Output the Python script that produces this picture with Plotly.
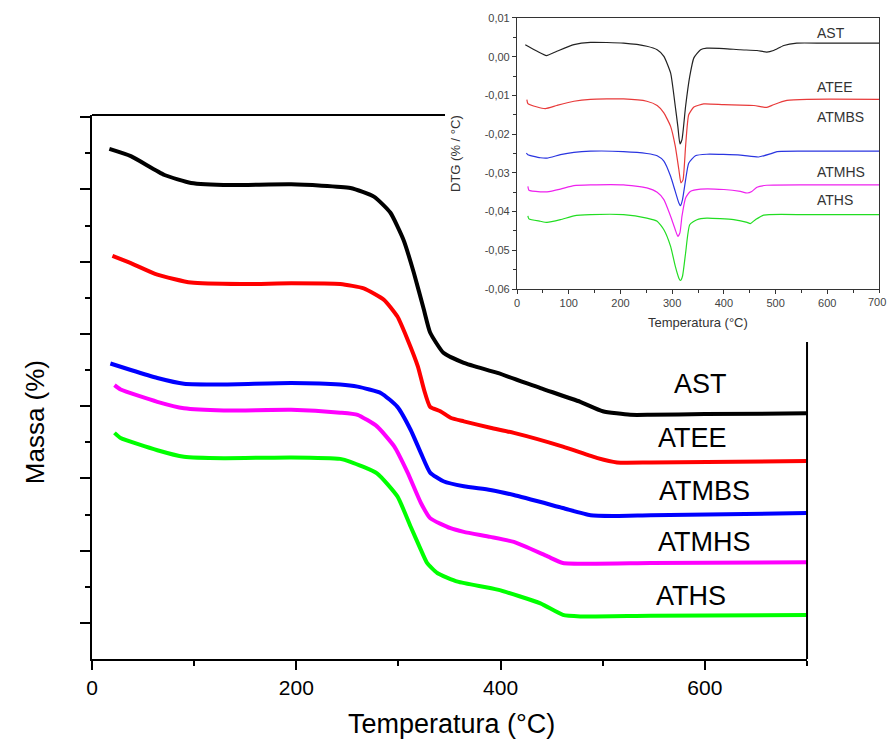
import plotly.graph_objects as go

# ---------------- Main TG curves (Massa, arbitrary offset units) ----------------
series_names = ["AST", "ATEE", "ATMBS", "ATMHS", "ATHS"]
main_colors = ["#000000", "#ff0000", "#0000ff", "#ff00ff", "#00ff00"]
dtg_colors = ["#222222", "#e83a3a", "#2a35e0", "#ee22ee", "#22dd22"]

ast_T = [17, 38, 71, 97, 136, 195, 253, 276, 292, 305, 315, 325, 331, 344, 364, 397, 439, 478, 500, 527, 547, 600, 700]
ast_M = [70.6, 69.6, 67.0, 65.9, 65.6, 65.7, 65.2, 64.0, 61.8, 58.0, 53.5, 48.3, 45.2, 42.4, 41.0, 39.6, 37.5, 35.6, 34.3, 33.8, 33.8, 33.9, 34.0]

atee_T = [20, 38, 64, 97, 146, 195, 243, 266, 286, 299, 309, 319, 325, 331, 341, 351, 364, 390, 413, 461, 495, 514, 547, 700]
atee_M = [55.8, 54.8, 53.2, 52.1, 51.9, 52.0, 51.9, 51.3, 49.7, 47.4, 44.2, 40.5, 37.3, 34.9, 34.3, 33.4, 32.9, 32.0, 31.3, 29.4, 27.8, 27.2, 27.2, 27.4]

atmbs_T = [18, 38, 64, 90, 129, 195, 243, 260, 283, 299, 312, 322, 331, 344, 364, 390, 413, 461, 488, 510, 547, 700]
atmbs_M = [40.9, 40.0, 38.9, 38.1, 38.0, 38.2, 38.0, 37.7, 36.8, 34.9, 31.7, 28.5, 25.8, 24.6, 23.9, 23.4, 22.7, 20.9, 19.9, 19.8, 19.9, 20.2]

atmhs_T = [22, 28, 64, 90, 129, 195, 243, 260, 279, 296, 309, 322, 331, 351, 364, 390, 413, 446, 461, 547, 700]
atmhs_M = [37.9, 37.3, 35.6, 34.7, 34.4, 34.5, 34.1, 33.8, 32.2, 29.4, 25.8, 21.6, 19.5, 18.1, 17.6, 16.9, 16.2, 14.2, 13.3, 13.3, 13.4]

aths_T = [22, 28, 64, 90, 129, 195, 243, 253, 279, 299, 312, 322, 328, 338, 358, 397, 439, 461, 478, 547, 700]
aths_M = [31.3, 30.6, 28.9, 28.0, 27.8, 27.9, 27.7, 27.3, 25.7, 22.5, 18.3, 15.1, 13.3, 11.9, 10.7, 9.6, 7.7, 6.1, 5.9, 6.0, 6.1]

# ---------------- Inset DTG curves (% / °C) ----------------
ast_dT = [16, 39, 57, 77, 110, 142, 206, 251, 271, 284, 297, 306, 311, 315, 319, 326, 334, 342, 355, 367, 400, 432, 464, 483, 496, 516, 541, 593, 700]
ast_D = [0.0031, 0.0014, 0.0003, 0.0014, 0.0031, 0.0037, 0.0035, 0.0027, 0.0018, 0.0001, -0.0042, -0.0128, -0.0180, -0.0225, -0.0214, -0.0128, -0.0051, -0.0003, 0.0018, 0.0022, 0.0021, 0.0018, 0.0016, 0.0012, 0.0016, 0.0029, 0.0035, 0.0035, 0.0035]

atee_dT = [19, 21, 39, 55, 77, 110, 142, 206, 251, 271, 284, 297, 306, 313, 317, 321, 326, 332, 342, 361, 400, 458, 483, 496, 522, 561, 700]
atee_D = [-0.0111, -0.0121, -0.0130, -0.0134, -0.0126, -0.0115, -0.0110, -0.0109, -0.0115, -0.0126, -0.0145, -0.0180, -0.0231, -0.0292, -0.0326, -0.0318, -0.0231, -0.0150, -0.0130, -0.0122, -0.0124, -0.0126, -0.0131, -0.0124, -0.0113, -0.0110, -0.0110]

atmbs_dT = [18, 21, 45, 58, 84, 110, 142, 206, 251, 271, 284, 297, 306, 313, 316, 320, 326, 332, 345, 367, 432, 467, 490, 503, 561, 700]
atmbs_D = [-0.0249, -0.0253, -0.0261, -0.0262, -0.0253, -0.0247, -0.0244, -0.0245, -0.0250, -0.0256, -0.0270, -0.0309, -0.0348, -0.0378, -0.0385, -0.0369, -0.0318, -0.0275, -0.0256, -0.0252, -0.0254, -0.0259, -0.0251, -0.0245, -0.0244, -0.0244]

atmhs_dT = [21, 23, 45, 58, 84, 110, 142, 206, 251, 271, 284, 297, 306, 311, 315, 319, 326, 335, 355, 400, 432, 445, 454, 464, 483, 561, 700]
atmhs_D = [-0.0335, -0.0345, -0.0349, -0.0349, -0.0342, -0.0333, -0.0331, -0.0331, -0.0339, -0.0350, -0.0369, -0.0412, -0.0447, -0.0464, -0.0455, -0.0412, -0.0365, -0.0348, -0.0342, -0.0343, -0.0348, -0.0352, -0.0348, -0.0337, -0.0332, -0.0331, -0.0331]

aths_dT = [21, 23, 45, 58, 84, 110, 142, 206, 251, 271, 284, 297, 306, 313, 316, 320, 326, 334, 348, 367, 419, 445, 451, 461, 477, 561, 700]
aths_D = [-0.0411, -0.0419, -0.0425, -0.0428, -0.0421, -0.0411, -0.0408, -0.0408, -0.0417, -0.0425, -0.0447, -0.0490, -0.0541, -0.0572, -0.0578, -0.0567, -0.0507, -0.0434, -0.0421, -0.0417, -0.0421, -0.0428, -0.0431, -0.0421, -0.0409, -0.0408, -0.0408]

main_T = [ast_T, atee_T, atmbs_T, atmhs_T, aths_T]
main_M = [ast_M, atee_M, atmbs_M, atmhs_M, aths_M]
dtg_T = [ast_dT, atee_dT, atmbs_dT, atmhs_dT, aths_dT]
dtg_D = [ast_D, atee_D, atmbs_D, atmhs_D, aths_D]

# label anchor points (data coords) for series names
main_lab_x = [596, 588, 600, 600, 586]
main_lab_y = [38.1, 30.6, 23.3, 16.2, 8.7]
ins_lab_x = [577, 576, 576, 576, 577]
ins_lab_y = [0.0062, -0.0078, -0.0155, -0.0297, -0.0369]

x_ticks = [0, 200, 400, 600]
ins_x_ticks = [0, 100, 200, 300, 400, 500, 600, 700]
ins_y_ticks = [0.01, 0.0, -0.01, -0.02, -0.03, -0.04, -0.05, -0.06]
ins_y_text = ["0,01", "0,00", "-0,01", "-0,02", "-0,03", "-0,04", "-0,05", "-0,06"]

ARIAL = "Liberation Sans, Arial, sans-serif"

fig = go.Figure()
for name, c, tx, my in zip(series_names, main_colors, main_T, main_M):
    fig.add_trace(go.Scatter(x=tx, y=my, mode="lines", name=name,
                             line=dict(color=c, width=4, shape="spline", smoothing=0.5),
                             xaxis="x", yaxis="y", showlegend=False))
for name, c, tx, dy in zip(series_names, dtg_colors, dtg_T, dtg_D):
    fig.add_trace(go.Scatter(x=tx, y=dy, mode="lines", name=name,
                             line=dict(color=c, width=1.2, shape="spline", smoothing=0.5),
                             xaxis="x2", yaxis="y2", showlegend=False))

annotations = []
for name, lx, ly in zip(series_names, main_lab_x, main_lab_y):
    annotations.append(dict(x=lx, y=ly, xref="x", yref="y", text=name, showarrow=False,
                            xanchor="center", yanchor="middle",
                            font=dict(family=ARIAL, size=27, color="black")))
for name, lx, ly in zip(series_names, ins_lab_x, ins_lab_y):
    annotations.append(dict(x=lx, y=ly, xref="x2", yref="y2", text=name, showarrow=False,
                            xanchor="left", yanchor="middle",
                            font=dict(family=ARIAL, size=14, color="#333")))
# last inset x tick label (partly beyond the right edge, as in the original)
annotations.append(dict(x=1, y=0, xref="x2 domain", yref="y2 domain", text="700",
                        showarrow=False, xanchor="right", yanchor="top", xshift=9, yshift=-5,
                        font=dict(family=ARIAL, size=11, color="#444")))
annotations.append(dict(x=-0.072, y=0.365, xref="paper", yref="paper", text="Massa (%)",
                        textangle=-90, showarrow=False, xanchor="center", yanchor="middle",
                        font=dict(family=ARIAL, size=26, color="black")))
annotations.append(dict(x=0.455, y=-0.10, xref="paper", yref="paper", text="Temperatura (°C)",
                        showarrow=False, xanchor="center", yanchor="middle",
                        font=dict(family=ARIAL, size=27, color="black")))
annotations.append(dict(x=0.5, y=-0.09, xref="x2 domain", yref="y2 domain",
                        text="Temperatura (°C)", showarrow=False, xanchor="center", yanchor="top",
                        font=dict(family=ARIAL, size=13, color="#333")))
annotations.append(dict(x=-0.17, y=0.5, xref="x2 domain", yref="y2 domain",
                        text="DTG (% / °C)", textangle=-90, showarrow=False,
                        xanchor="center", yanchor="middle",
                        font=dict(family=ARIAL, size=13, color="#333")))

fig.update_layout(
    width=887, height=744,
    margin=dict(l=92, r=5, t=10, b=85),
    paper_bgcolor="white", plot_bgcolor="white",
    showlegend=False,
    xaxis=dict(domain=[0, 0.9051], range=[0, 700], anchor="y",
               tickmode="array", tickvals=x_ticks,
               ticks="outside", ticklen=9, tickwidth=2, tickcolor="black",
               showline=True, linewidth=2, linecolor="black", showgrid=False, zeroline=False,
               tickfont=dict(family=ARIAL, size=21, color="black"),
               minor=dict(dtick=100, tick0=0, ticks="outside", ticklen=5, tickwidth=2, tickcolor="black")),
    yaxis=dict(domain=[0, 0.8382], range=[0, 75.3], anchor="x",
               tickmode="array", tickvals=[5, 15, 25, 35, 45, 55, 65, 75],
               showticklabels=False,
               ticks="outside", ticklen=10, tickwidth=2, tickcolor="black",
               showline=True, linewidth=2, linecolor="black", showgrid=False, zeroline=False,
               minor=dict(tickmode="array", tickvals=[10, 20, 30, 40, 50, 60, 70],
                          ticks="outside", ticklen=5, tickwidth=2, tickcolor="black")),
    xaxis2=dict(domain=[0.538, 0.9962], range=[0, 700], anchor="y2",
                tickmode="array", tickvals=ins_x_ticks[:-1],
                ticks="outside", ticklen=4, tickwidth=1, tickcolor="#333",
                showline=True, linewidth=1.2, linecolor="#333", mirror=True,
                showgrid=False, zeroline=False,
                tickfont=dict(family=ARIAL, size=11, color="#444"),
                minor=dict(dtick=50, tick0=0, ticks="outside", ticklen=3, tickwidth=1, tickcolor="#333")),
    yaxis2=dict(domain=[0.5701, 0.9877], range=[-0.06, 0.01], anchor="x2",
                tickmode="array", tickvals=ins_y_ticks, ticktext=ins_y_text,
                ticks="outside", ticklen=4, tickwidth=1, tickcolor="#333",
                showline=True, linewidth=1.2, linecolor="#333", mirror=True,
                showgrid=False, zeroline=False,
                tickfont=dict(family=ARIAL, size=11, color="#444"),
                minor=dict(dtick=0.005, tick0=0, ticks="outside", ticklen=3, tickwidth=1, tickcolor="#333")),
    annotations=annotations,
    shapes=[
        dict(type="line", xref="x domain", yref="y domain", x0=0, x1=0.4937, y0=1, y1=1,
             line=dict(color="black", width=2)),
        dict(type="line", xref="x domain", yref="y domain", x0=1, x1=1, y0=0, y1=0.5827,
             line=dict(color="black", width=2)),
    ],
)

fig.write_html("out.html")
